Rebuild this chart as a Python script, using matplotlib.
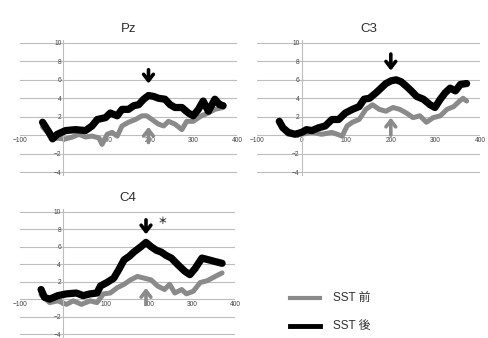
import matplotlib
matplotlib.use("Agg")
import matplotlib.pyplot as plt

plt.rcParams['font.family'] = ['Liberation Sans', 'Noto Sans CJK JP', 'DejaVu Sans']

# ---------------- data ----------------
x_ticks = [-100, 0, 100, 200, 300, 400]
y_ticks = [-4, -2, 0, 2, 4, 6, 8, 10]
legend_labels = ["SST 前", "SST 後"]

pz_after_x = [-48, -33, -25, -14, 5, 28, 51, 66, 78, 97, 108, 124, 135, 150, 162, 173,
              185, 196, 208, 219, 234, 246, 257, 273, 288, 299, 311, 322, 334, 349, 360, 368]
pz_after_y = [1.4, 0.3, -0.4, 0.1, 0.5, 0.6, 0.5, 1.0, 1.7, 1.9, 2.4, 2.1, 2.8, 2.8, 3.2, 3.3,
              3.9, 4.3, 4.2, 4.0, 3.9, 3.3, 3.0, 3.0, 2.4, 2.1, 2.8, 3.7, 2.6, 3.9, 3.3, 3.2]
pz_before_x = [-48, -25, 5, 21, 36, 51, 66, 82, 89, 101, 112, 124, 135, 150, 166, 181,
               192, 204, 219, 231, 242, 257, 273, 284, 299, 318, 334, 349, 368]
pz_before_y = [0.9, -0.3, -0.4, -0.2, 0.1, -0.2, -0.1, -0.3, -1.0, 0.1, 0.3, -0.1, 1.0, 1.4, 1.7, 2.1,
               2.1, 1.7, 1.2, 1.0, 1.5, 1.2, 0.6, 1.5, 1.5, 2.1, 2.4, 2.8, 3.0]

c3_after_x = [-50, -42, -30, -15, 0, 11, 23, 38, 53, 68, 83, 98, 114, 129, 140, 152, 167,
              178, 189, 201, 212, 223, 235, 246, 258, 273, 288, 299, 311, 322, 333, 345, 356, 370]
c3_after_y = [1.5, 0.8, 0.3, 0.1, 0.3, 0.6, 0.5, 0.8, 1.0, 1.7, 1.7, 2.4, 2.8, 3.1, 3.9, 4.0, 4.6,
              5.1, 5.6, 5.9, 6.0, 5.8, 5.3, 4.8, 4.2, 3.9, 3.3, 3.0, 3.9, 4.6, 5.1, 4.8, 5.5, 5.6]
c3_before_x = [-50, -30, 0, 23, 45, 68, 91, 102, 114, 129, 144, 159, 174, 189, 205, 220,
               235, 250, 265, 280, 295, 311, 326, 341, 354, 362, 370]
c3_before_y = [1.4, 0.1, 0.1, 0.3, 0.1, 0.3, -0.1, 1.0, 1.4, 1.7, 2.8, 3.3, 2.8, 2.6, 3.0, 2.8,
               2.4, 1.9, 2.1, 1.4, 1.9, 2.1, 2.8, 3.1, 3.7, 4.0, 3.7]

c4_after_x = [-51, -43, -31, -12, 8, 31, 47, 63, 79, 87, 102, 118, 130, 142, 154, 165,
              181, 193, 205, 217, 228, 240, 252, 268, 283, 295, 307, 323, 339, 354, 370]
c4_after_y = [1.1, 0.2, 0.0, 0.4, 0.6, 0.7, 0.4, 0.6, 0.7, 1.5, 1.9, 2.4, 3.4, 4.5, 4.9, 5.4,
              6.0, 6.5, 6.0, 5.6, 5.4, 5.0, 4.7, 3.9, 3.2, 2.8, 3.5, 4.7, 4.5, 4.3, 4.1]
c4_before_x = [-51, -31, -12, 8, 24, 43, 63, 79, 94, 110, 126, 142, 157, 173, 189, 205,
               220, 236, 248, 260, 276, 287, 303, 319, 335, 354, 370]
c4_before_y = [0.5, -0.4, -0.2, -0.6, -0.2, -0.6, -0.2, -0.4, 0.6, 0.7, 1.3, 1.7, 2.2, 2.6, 2.4, 2.2,
               1.5, 1.1, 1.7, 0.7, 1.1, 0.6, 0.9, 1.9, 2.1, 2.6, 3.0]

# arrows: (x, start_y, end_y, colour)
pz_arrows = [(196, 7.4, 5.3, 'black'), (196, -1.1, 1.2, '#8a8a8a')]
c3_arrows = [(200, 9.1, 6.7, 'black'), (200, -0.3, 2.2, '#8a8a8a')]
c4_arrows = [(193, 9.4, 7.1, 'black'), (193, -0.9, 1.6, '#8a8a8a')]

GRAY = '#8a8a8a'
BLACK = '#000000'
GRID = '#bdbdbd'
TXT = '#2e2e2e'

fig = plt.figure(figsize=(4.89, 3.38), dpi=100)


def panel(rect, title, bx, by, ax_, ay_, arrows, star=False):
    ax = fig.add_axes(rect)
    ax.set_xlim(-100, 400)
    ax.set_ylim(-4.3, 10.3)
    for yv in y_ticks:
        ax.axhline(yv, color=GRID, lw=0.8, zorder=0)
    ax.spines['left'].set_position(('data', 0))
    ax.spines['bottom'].set_position(('data', 0))
    ax.spines['left'].set_color(GRID)
    ax.spines['left'].set_linewidth(0.8)
    ax.spines['bottom'].set_visible(False)
    ax.spines['top'].set_visible(False)
    ax.spines['right'].set_visible(False)
    ax.set_xticks(x_ticks)
    ax.set_yticks(y_ticks)
    ax.tick_params(length=0, labelsize=4.8, colors='#444444', pad=1.5)
    ax.patch.set_alpha(0)
    ax.plot(bx, by, color=GRAY, lw=3.6, solid_joinstyle='round',
            solid_capstyle='round', zorder=2)
    ax.plot(ax_, ay_, color=BLACK, lw=5.2, solid_joinstyle='round',
            solid_capstyle='round', zorder=3)
    for xa, y0, y1, col in arrows:
        ax.annotate('', xy=(xa, y1), xytext=(xa, y0),
                    arrowprops=dict(arrowstyle='->,head_length=0.45,head_width=0.35',
                                    lw=2.6, color=col), zorder=4)
    ax.set_title(title, fontsize=9.5, color=TXT, pad=6)
    if star:
        ax.text(232, 9.0, '＊', fontsize=7, color=TXT, ha='center', va='center',
                fontweight='bold', family=['Noto Sans CJK JP', 'DejaVu Sans'])
    return ax


panel([0.0409, 0.4828, 0.4438, 0.3983], 'Pz', pz_before_x, pz_before_y,
      pz_after_x, pz_after_y, pz_arrows)
panel([0.5256, 0.4828, 0.456, 0.3983], 'C3', c3_before_x, c3_before_y,
      c3_after_x, c3_after_y, c3_arrows)
panel([0.0409, 0.004, 0.4397, 0.3770], 'C4', c4_before_x, c4_before_y,
      c4_after_x, c4_after_y, c4_arrows, star=True)

# legend
fig.add_artist(plt.Line2D([290 / 489, 320 / 489], [1 - 298 / 338] * 2, color=GRAY, lw=3))
fig.add_artist(plt.Line2D([290 / 489, 320 / 489], [1 - 326 / 338] * 2, color=BLACK, lw=3.5))
fig.text(333 / 489, 1 - 298 / 338, legend_labels[0], fontsize=8.5, color=TXT, va='center')
fig.text(333 / 489, 1 - 326 / 338, legend_labels[1], fontsize=8.5, color=TXT, va='center')

fig.savefig('out.png', dpi=100)
